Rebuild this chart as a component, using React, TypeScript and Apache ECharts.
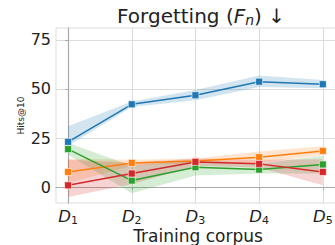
import React, { useEffect, useRef } from "react";
import * as echarts from "echarts";

const corpusSubs = ["1", "2", "3", "4", "5"];
const xPos = [0, 1, 2, 3, 4];
const yTicks = [0, 25, 50, 75];

const blueMean = [23.1, 42.2, 46.8, 53.7, 52.4];
const blueLo = [21, 40.8, 44.3, 51, 50.3];
const blueHi = [31, 43.6, 49.5, 56.8, 54.6];

const orangeMean = [7.8, 12.4, 13.3, 15.3, 18.5];
const orangeLo = [2, 11, 12.3, 12.5, 16.3];
const orangeHi = [14.5, 14, 14.6, 18.2, 20.8];

const greenMean = [19.4, 3.4, 10.2, 9.0, 11.6];
const greenLo = [16.5, -3, 6, 7, 7];
const greenHi = [22.5, 11, 14, 12, 16];

const redMean = [1.0, 7.0, 12.9, 11.9, 7.8];
const redLo = [-5, 1.5, 11, 10, 1];
const redHi = [14, 12.5, 14.6, 14, 14.2];

const colors = ["#1f77b4", "#ff7f0e", "#2ca02c", "#d62728"];
const means = [blueMean, orangeMean, greenMean, redMean];
const los = [blueLo, orangeLo, greenLo, redLo];
const his = [blueHi, orangeHi, greenHi, redHi];

export default function App() {
  const ref = useRef<HTMLDivElement>(null);
  useEffect(() => {
    if (!ref.current) return;
    const chart = echarts.init(ref.current, null, { renderer: "svg" });
    const series: any[] = [];
    means.forEach((m, k) => {
      const lo = los[k];
      const hi = his[k];
      series.push({
        type: "custom",
        silent: true,
        z: 1,
        data: xPos.map((x, i) => [x, lo[i], hi[i]]),
        renderItem: (params: any, api: any) => {
          if (params.dataIndexInside !== 0) return null;
          const n = xPos.length;
          const top: number[][] = [];
          const bot: number[][] = [];
          for (let i = 0; i < n; i++) {
            const x = api.value(0, i);
            top.push(api.coord([x, api.value(2, i)]));
            bot.push(api.coord([x, api.value(1, i)]));
          }
          return {
            type: "polygon",
            shape: { points: top.concat(bot.reverse()) },
            style: { fill: colors[k], opacity: 0.2 },
          };
        },
      });
    });
    means.forEach((m, k) => {
      series.push({
        type: "line",
        z: 3,
        data: xPos.map((x, i) => [x, m[i]]),
        symbol: "rect",
        symbolSize: 7,
        showSymbol: true,
        lineStyle: { color: colors[k], width: 1.5 },
        itemStyle: { color: colors[k], borderColor: "#fff", borderWidth: 0.6 },
      });
    });
    const txt = { fontFamily: "DejaVu Sans", color: "#222", fontWeight: "normal" as const };
    chart.setOption({
      animation: false,
      backgroundColor: "#fff",
      title: {
        text: "{t|Forgetting (}{i|F}{sub|n}{t|) ↓}",
        left: 196,
        top: 0,
        textAlign: "center",
        textStyle: {
          fontWeight: "normal",
          rich: {
            t: { ...txt, fontSize: 20 },
            i: { ...txt, fontStyle: "italic", fontSize: 20 },
            sub: { ...txt, fontStyle: "italic", fontSize: 14, padding: [8, 0, 0, 0] },
          },
        },
      },
      grid: {
        left: 56,
        top: 28,
        right: 20,
        bottom: 42,
        outerBoundsMode: "none",
        containLabel: false,
        show: true,
        borderColor: "#dddddd",
        borderWidth: 1,
      },
      xAxis: {
        type: "value",
        min: -0.19,
        max: 4.27,
        name: "Training corpus",
        nameLocation: "middle",
        nameGap: 24,
        nameMoveOverlap: false,
        nameTextStyle: { ...txt, fontSize: 17 },
        axisLine: { show: true, lineStyle: { color: "#aaa", width: 1.2 } },
        axisTick: { show: true, length: 3, customValues: xPos, lineStyle: { color: "#aaa" } },
        splitLine: { show: true, lineStyle: { color: "#dcdcdc", width: 1 } },
        axisLabel: {
          customValues: xPos,
          margin: 5,
          formatter: (v: number) => `{d|D}{s|${corpusSubs[Math.round(v)]}}`,
          rich: {
            d: { ...txt, fontStyle: "italic", fontSize: 16.5, lineHeight: 17 },
            s: { ...txt, fontSize: 11, lineHeight: 10, padding: [7, 0, 0, 0] },
          },
        },
      },
      yAxis: {
        type: "value",
        min: -8,
        max: 81,
        name: "Hits@10",
        nameLocation: "middle",
        nameGap: 31,
        nameMoveOverlap: false,
        nameRotate: 90,
        nameTextStyle: { ...txt, fontSize: 9 },
        axisLine: { show: true, lineStyle: { color: "#aaa", width: 1.2 } },
        axisTick: { show: true, length: 3, customValues: yTicks, lineStyle: { color: "#aaa" } },
        splitLine: { show: true, lineStyle: { color: "#dcdcdc", width: 1 } },
        axisLabel: {
          customValues: yTicks,
          margin: 5,
          ...txt,
          fontSize: 16,
        },
      },
      series,
    });
    return () => chart.dispose();
  }, []);
  return (
    <div
      ref={ref}
      style={{ position: "absolute", left: 0, top: 0, width: 360, height: 245 }}
    />
  );
}
